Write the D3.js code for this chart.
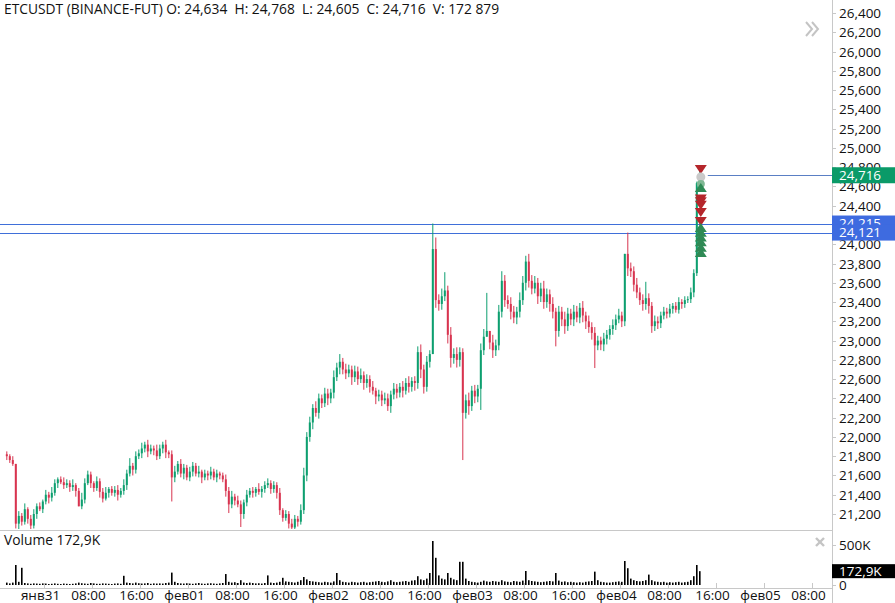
<!DOCTYPE html>
<html><head><meta charset="utf-8">
<script src="https://cdn.jsdelivr.net/npm/d3@7"></script>
<style>
html,body{margin:0;padding:0;background:#fff;overflow:hidden}
svg{display:block;font-family:"Open Sans",sans-serif}
</style></head>
<body><svg id="c" width="895" height="603"></svg>
<script>
// ---- DATA ----
const startHour = -6.5;      // first candle: янв30 17:30 (hours from янв31 00:00)
const candleHours = 0.5;     // 30-minute candles
const firstOpen = 21820;
const closes = [
 21800,21760,21720,21100,21180,21120,21250,21150,21080,21200,
 21280,21250,21330,21400,21370,21420,21520,21560,21530,21500,
 21520,21480,21500,21440,21280,21350,21520,21610,21520,21470,
 21540,21430,21360,21420,21460,21420,21450,21400,21440,21500,
 21620,21700,21660,21800,21830,21880,21920,21850,21880,21860,
 21800,21880,21920,21840,21820,21580,21640,21720,21620,21680,
 21580,21640,21700,21620,21640,21580,21620,21600,21640,21580,
 21620,21600,21560,21440,21300,21380,21340,21300,21200,21320,
 21400,21440,21420,21460,21430,21460,21500,21520,21460,21500,
 21420,21240,21160,21200,21100,21060,21150,21120,21240,21600,
 22000,22150,22300,22250,22400,22350,22450,22400,22460,22620,
 22720,22780,22700,22660,22700,22620,22680,22600,22640,22560,
 22600,22520,22480,22420,22440,22380,22400,22320,22440,22500,
 22460,22520,22480,22560,22520,22580,22560,22880,22700,22520,
 22780,22860,23950,23420,23380,23460,23520,23060,22820,22860,
 22800,22880,22250,22380,22320,22480,22420,22500,22900,23040,
 23100,22980,22900,22950,23300,23620,23420,23380,23300,23240,
 23300,23420,23600,23820,23620,23540,23600,23460,23540,23400,
 23480,23380,23300,23100,23300,23220,23150,23280,23220,23300,
 23240,23340,23260,23200,23140,23080,22950,23000,22960,23020,
 23060,23120,23160,23220,23260,23200,23900,23750,23720,23580,
 23500,23420,23380,23440,23360,23150,23200,23180,23260,23300,
 23280,23330,23360,23320,23400,23380,23420,23430,23500,23700,
 24634,24716
];
// upper / lower wick lengths (tens of price units)
const wickUp = [
 3,2,4,0,5,3,6,2,4,5, 3,4,2,5,3,6,4,2,3,5, 4,3,6,2,3,7,5,4,3,2, 5,3,4,6,2,3,4,5,3,6,
 4,8,3,5,4,6,3,5,4,3, 6,4,3,5,2,4,6,3,5,4, 3,5,4,3,6,2,4,3,5,3, 4,2,3,5,4,6,3,5,4,3,
 5,3,4,2,6,3,4,5,3,4, 3,5,2,4,3,5,4,3,6,8, 5,6,4,7,5,4,6,5,4,7, 5,8,4,6,5,4,6,5,7,4,
 5,4,6,3,5,4,6,5,4,6, 5,4,6,5,7,4,5,6,8,5, 6,4,10,12,6,8,0,5,8,6, 7,5,4,6,8,5,6,4,7,8,
 6,0,8,6,7,10,6,5,7,6, 5,8,7,6,8,6,7,5,6,8, 6,5,7,4,6,5,8,6,5,7, 6,5,7,4,6,5,6,5,4,6,
 5,4,6,5,7,4,0,0,6,5, 7,5,6,0,5,4,6,5,4,5, 4,5,3,4,5,3,4,3,5,4, 0,0
];
const wickDown = [
 4,3,2,0,6,4,3,5,4,3, 5,2,4,3,6,4,3,5,2,4, 3,5,4,6,0,3,4,2,5,4, 3,6,4,2,5,3,4,6,3,4,
 5,3,6,4,3,5,4,6,3,5, 4,3,5,6,4,0,5,3,4,6, 3,4,5,3,4,6,3,5,4,3, 5,4,3,6,0,4,5,3,0,5,
 4,3,5,4,3,6,4,3,5,4, 6,5,4,3,5,0,4,5,3,4, 6,5,7,4,6,5,4,7,5,6, 4,7,5,6,4,8,5,6,4,7,
 5,6,4,8,5,6,4,5,7,5, 6,5,7,4,6,5,8,6,9,7, 5,6,0,8,7,6,5,9,10,6, 8,7,0,6,9,5,7,6,0,5,
 0,7,8,6,5,6,7,5,8,6, 7,6,5,8,7,6,5,8,6,7, 6,8,7,0,6,7,8,5,6,7, 5,6,7,8,6,7,0,5,6,7,
 6,5,6,5,4,6,5,8,6,7, 6,5,7,6,8,0,5,6,5,4, 5,4,5,3,4,5,4,3,4,5, 3,2
];
// [candle index, high, low] notable wicks (null = use the regular wick)
const wicks = [
 [3,null,21050],[55,null,21330],[74,null,21210],[78,null,21065],[95,null,21040],
 [142,24215,null],[146,23710,null],[152,null,21760],[158,null,22280],[160,23495,null],
 [183,null,22940],[196,null,22715],[207,24121,null],[213,23610,null],[215,null,23080],
 [230,24650,null],[231,24768,24605]
];
const volumes = [ // thousands
 30,20,30,250,40,215,25,20,15,20,
 18,15,20,18,12,15,20,15,12,18,
 15,12,15,20,30,22,18,15,25,20,
 15,15,20,18,15,12,18,20,15,115,
 30,25,20,30,22,18,20,25,15,20,
 18,20,18,25,30,155,40,25,20,18,
 22,18,15,20,25,18,15,20,22,18,
 15,20,25,137,40,30,35,25,60,30,
 25,30,25,20,22,18,25,120,30,25,
 30,40,90,45,40,35,30,40,60,100,
 70,50,45,40,35,30,40,35,30,45,
 150,60,40,35,30,40,35,30,35,40,
 30,35,40,45,50,40,35,45,60,40,
 35,40,45,50,40,55,60,110,70,60,
 80,150,550,340,120,80,70,150,90,70,
 60,290,290,80,50,40,35,30,40,55,
 45,40,50,45,40,60,45,40,35,50,
 45,40,55,175,60,50,45,40,35,40,
 45,50,45,150,55,40,45,35,40,35,
 30,35,30,40,45,50,167,60,40,35,
 30,30,35,40,45,40,300,210,80,60,
 50,45,50,60,130,60,45,40,35,40,
 30,35,30,35,40,30,35,40,60,110,
 250,172.9
];
const priceTicks = d3.range(21200, 26401, 200);
const volTicks = [0, 500];
const timeTickHours = d3.range(0, 129, 8);
const timeTickLabels = ["янв31","08:00","16:00","фев01","08:00","16:00","фев02","08:00","16:00","фев03","08:00","16:00","фев04","08:00","16:00","фев05","08:00"];
const markerPrices = [24770,24698,24625,24595,24465,24435,24400,24324,24231,24180,24130,24080,24030,23975,23920];
const markerTypes  = ["sell","exit","exitBuy","buy","sell","sell","sell","sell","sell","buy","buy","buy","buy","buy","buy"];
const levelLines = [24215, 24121];
const header = "ETCUSDT (BINANCE-FUT) O: 24,634  H: 24,768  L: 24,605  C: 24,716  V: 172 879";
const lastClose = 24716, lastVolume = "172,9K";

// ---- LAYOUT ----
const W = 895, H = 603, axisX = 832, mainBottom = 529, sepY = 530;
const volTop = 545, volBase = 585, xAxisY = 588;
const GREEN = "#0d9f6f", RED = "#d8344f";

const svg = d3.select("#c");
const x = d3.scaleLinear().domain([-7.383, 131.283]).range([0, axisX]);
const y = d3.scaleLinear().domain([21044.4, 26534.9]).range([mainBottom, 0]);
const yv = d3.scaleLinear().domain([0, 500]).range([volBase, volTop]);
const fmt = d3.format(",");

const n = Math.min(closes.length, volumes.length);
const candles = [];
for (let i = 0; i < n; i++) {
  const o = i === 0 ? firstOpen : closes[i-1];
  const c = closes[i];
  let hi = Math.max(o, c) + (wickUp[i] || 0)*10, lo = Math.min(o, c) - (wickDown[i] || 0)*10;
  const w = wicks.find(d => d[0] === i);
  if (w) { if (w[1] != null) hi = w[1]; if (w[2] != null) lo = w[2]; }
  candles.push({h: startHour + i*candleHours + candleHours/2, o, c, hi, lo, v: volumes[i]});
}

svg.append("defs").append("clipPath").attr("id","mainclip")
  .append("rect").attr("x",0).attr("y",0).attr("width",axisX).attr("height",mainBottom);

// header
svg.append("text").attr("x",4).attr("y",14).attr("font-size",13.8).attr("fill","#111")
  .style("white-space","pre").text(header);

// double chevron
const chev = svg.append("g").attr("fill","none").attr("stroke","#c4c4c4").attr("stroke-width",2);
[806, 812].forEach(cx => chev.append("polyline").attr("points", `${cx},22 ${cx+6},29 ${cx},36`));

const main = svg.append("g").attr("clip-path","url(#mainclip)");
// level lines
levelLines.forEach(p => main.append("line").attr("x1",0).attr("x2",axisX)
  .attr("y1",Math.round(y(p))+0.5).attr("y2",Math.round(y(p))+0.5)
  .attr("stroke","#3f6fd9").attr("stroke-width",1));

// candles
const cg = main.append("g");
cg.selectAll("line.w").data(candles).join("line")
  .attr("x1",d=>x(d.h)).attr("x2",d=>x(d.h))
  .attr("y1",d=>y(d.hi)).attr("y2",d=>y(d.lo))
  .attr("stroke",d=>d.c>=d.o?GREEN:RED).attr("stroke-width",1);
cg.selectAll("rect").data(candles).join("rect")
  .attr("x",d=>x(d.h)-1).attr("width",2)
  .attr("y",d=>y(Math.max(d.o,d.c)))
  .attr("height",d=>Math.max(1, y(Math.min(d.o,d.c))-y(Math.max(d.o,d.c))))
  .attr("fill",d=>d.c>=d.o?GREEN:RED);

// last price line
const lastX = x(candles[n-1].h);
svg.append("line").attr("x1",lastX+8).attr("x2",axisX)
  .attr("y1",Math.round(y(lastClose))+0.5).attr("y2",Math.round(y(lastClose))+0.5)
  .attr("stroke","#5a7fc4").attr("stroke-width",1);

// markers
const mg = svg.append("g");
const mx = lastX + 1;
markerPrices.forEach((p,i) => {
  const t = markerTypes[i], my = y(p);
  if (t === "sell") mg.append("path").attr("d",`M${mx-6},${my-5}L${mx+6},${my-5}L${mx},${my+4}Z`).attr("fill","#b5262b");
  else if (t === "buy") mg.append("path").attr("d",`M${mx-6},${my+5}L${mx+6},${my+5}L${mx},${my-4}Z`).attr("fill","#2f8a55");
  else if (t === "exit") mg.append("circle").attr("cx",mx).attr("cy",my).attr("r",4.5).attr("fill","#c9c9c9");
  else mg.append("circle").attr("cx",mx).attr("cy",my).attr("r",4).attr("fill","#7fb894");
});

// separators & axes lines
svg.append("line").attr("x1",0).attr("x2",axisX).attr("y1",sepY+0.5).attr("y2",sepY+0.5).attr("stroke","#c8c8c8");
svg.append("line").attr("x1",0).attr("x2",axisX).attr("y1",xAxisY+0.5).attr("y2",xAxisY+0.5).attr("stroke","#c8c8c8");
svg.append("line").attr("x1",axisX+0.5).attr("x2",axisX+0.5).attr("y1",0).attr("y2",H).attr("stroke","#c8c8c8");

// price axis
const pa = svg.append("g");
priceTicks.forEach(p => {
  const yy = Math.round(y(p))+0.5;
  pa.append("line").attr("x1",axisX).attr("x2",axisX+4).attr("y1",yy).attr("y2",yy).attr("stroke","#c8c8c8");
  pa.append("text").attr("x",839).attr("y",yy).attr("dy","0.35em").attr("font-size",13.5).attr("fill","#111").text(fmt(p));
});

// volume pane
svg.append("g").selectAll("rect").data(candles).join("rect")
  .attr("x",d=>x(d.h)-0.8).attr("width",1.6)
  .attr("y",d=>yv(d.v)).attr("height",d=>Math.max(0.5, volBase-yv(d.v))).attr("fill","#000");
svg.append("text").attr("x",4).attr("y",545).attr("font-size",13.8).attr("fill","#111").text("Volume " + lastVolume);
volTicks.forEach(v => {
  const yy = Math.round(yv(v))+0.5;
  svg.append("line").attr("x1",axisX).attr("x2",axisX+4).attr("y1",yy).attr("y2",yy).attr("stroke","#c8c8c8");
  svg.append("text").attr("x",839).attr("y",yy).attr("dy","0.35em").attr("font-size",13.5).attr("fill","#111").text(v===0?"0":v+"K");
});
// close "x"
const xg = svg.append("g").attr("stroke","#c4c4c4").attr("stroke-width",2.4);
xg.append("line").attr("x1",816).attr("y1",538).attr("x2",824).attr("y2",546);
xg.append("line").attr("x1",824).attr("y1",538).attr("x2",816).attr("y2",546);
// volume last label
const vy = yv(172.9);
svg.append("rect").attr("x",axisX).attr("y",vy-7).attr("width",W-axisX).attr("height",14).attr("fill","#000");
svg.append("text").attr("x",839).attr("y",vy).attr("dy","0.36em").attr("font-size",13.5).attr("fill","#fff").text(lastVolume);

// time axis
const ta = svg.append("g");
timeTickHours.forEach((h,i) => {
  const xx = Math.round(x(h))+0.5;
  ta.append("line").attr("x1",xx).attr("x2",xx).attr("y1",xAxisY-5).attr("y2",xAxisY).attr("stroke","#c8c8c8");
  ta.append("text").attr("x",xx-4).attr("y",600).attr("text-anchor","middle").attr("font-size",13.5).attr("fill","#111").text(timeTickLabels[i]);
});

// price labels on axis
function tag(p, color) {
  const yy = y(p);
  svg.append("rect").attr("x",axisX).attr("y",yy-8).attr("width",W-axisX).attr("height",16).attr("fill",color);
  svg.append("text").attr("x",839).attr("y",yy).attr("dy","0.36em").attr("font-size",13.5).attr("fill","#fff").text(fmt(p));
}
levelLines.forEach(p => tag(p, "#3e6be0"));
tag(lastClose, "#0a9a68");
</script></body></html>
